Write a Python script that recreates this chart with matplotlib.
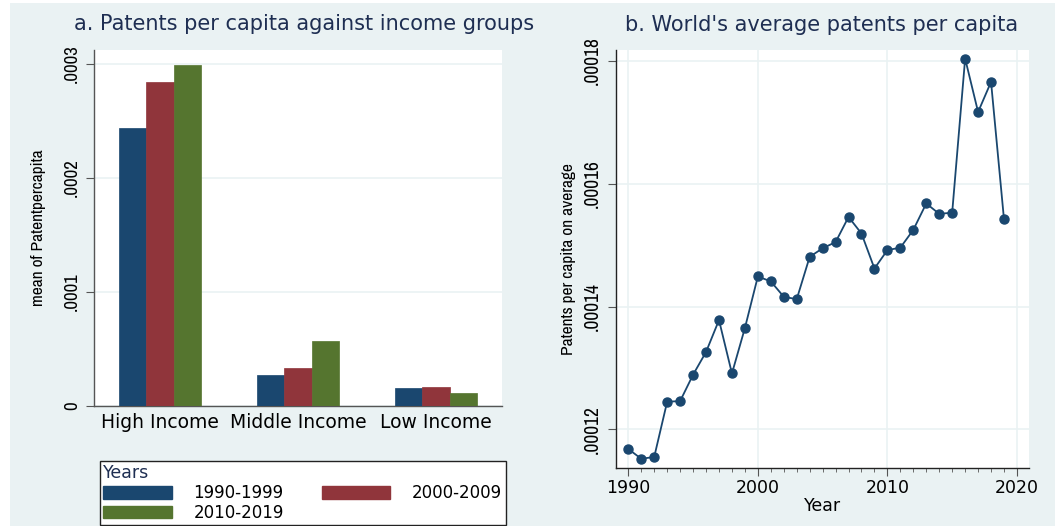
import matplotlib
matplotlib.use("Agg")
import matplotlib.pyplot as plt
from matplotlib.patches import Rectangle, Patch
import numpy as np

# income-group means, by decade
groups = ["High Income", "Middle Income", "Low Income"]
decades = ["1990-1999", "2000-2009", "2010-2019"]
mean_9099 = [0.0002436, 0.0000272, 0.0000161]
mean_0009 = [0.0002842, 0.0000331, 0.0000167]
mean_1019 = [0.0002991, 0.0000570, 0.0000114]

# world average per year
years = list(range(1990, 2020))
world_avg = [
    0.0001168, 0.0001152, 0.0001155, 0.0001245, 0.0001246,
    0.0001289, 0.0001326, 0.0001378, 0.0001291, 0.0001365,
    0.0001449, 0.0001441, 0.0001416, 0.0001412, 0.0001481,
    0.0001495, 0.0001505, 0.0001546, 0.0001519, 0.0001462,
    0.0001492, 0.0001496, 0.0001525, 0.0001568, 0.0001551,
    0.0001553, 0.0001804, 0.0001717, 0.0001766, 0.0001542,
]

navy = "#1a476f"
maroon = "#90353b"
green = "#55752f"
panel_bg = "#eaf2f3"
title_col = "#1e2e52"
narrow = ["Liberation Sans Narrow", "Archivo Narrow", "DejaVu Sans"]

W, H = 1055, 526
fig = plt.figure(figsize=(W / 100, H / 100), dpi=100)
fig.patch.set_facecolor("white")
fig.patches.append(Rectangle((10 / W, 0), 1 - 10 / W, 1 - 3 / H,
                             transform=fig.transFigure, facecolor=panel_bg,
                             edgecolor="none", zorder=-10))


def px_axes(x0, x1, top, bottom):
    return fig.add_axes([x0 / W, 1 - bottom / H, (x1 - x0) / W, (bottom - top) / H])


# ---- a. bar chart ----
ax = px_axes(94, 502, 50, 406)
x = np.arange(len(groups))
bw = 0.2
for i, (vals, col) in enumerate(zip([mean_9099, mean_0009, mean_1019], [navy, maroon, green])):
    ax.bar(x + (i - 1) * bw, vals, width=bw, color=col, edgecolor=col, linewidth=0.5, zorder=3)
ax.set_xlim(-0.478, 2.478)
ax.set_ylim(0, 0.000312)
ax.set_yticks([0, 0.0001, 0.0002, 0.0003])
ax.set_yticklabels(["0", ".0001", ".0002", ".0003"], rotation=90, va="center",
                   family=narrow, fontsize=13.5)
ax.set_xticks(x)
ax.set_xticklabels(groups, fontsize=13.5)
ax.tick_params(axis="x", length=0, pad=5)
ax.tick_params(axis="y", length=6, width=0.8, color="#555555", pad=4)
ax.grid(axis="y", color=panel_bg, linewidth=1.2, zorder=0)
for s in ["top", "right"]:
    ax.spines[s].set_visible(False)
for s in ["left", "bottom"]:
    ax.spines[s].set_color("#555555")
    ax.spines[s].set_linewidth(1.0)
ax.set_ylabel("mean of Patentpercapita", family=narrow, fontsize=12.5, labelpad=13)
fig.text(304 / W, 1 - 24 / H, "a. Patents per capita against income groups",
         ha="center", va="center", fontsize=15, color=title_col)

handles = [Patch(facecolor=navy, edgecolor=navy),
           Patch(facecolor=green, edgecolor=green),
           Patch(facecolor=maroon, edgecolor=maroon)]
labels = [decades[0], decades[2], decades[1]]
leg = fig.legend(handles, labels, ncol=2, title="Years", loc="upper left",
                 bbox_to_anchor=(100 / W, 1 - 461 / H), borderaxespad=0,
                 fontsize=12, title_fontsize=12.5, alignment="left",
                 handlelength=4.1, handleheight=0.8, handletextpad=1.3,
                 columnspacing=2.3, labelspacing=0.1, borderpad=0.2,
                 fancybox=False, framealpha=1, edgecolor="#222222")
leg.get_title().set_color(title_col)
leg.get_frame().set_linewidth(1.0)

# ---- b. world average line ----
bx = px_axes(616, 1029, 50, 468)
bx.plot(years, world_avg, color=navy, linewidth=1.3, marker="o", markersize=6.5,
        markerfacecolor=navy, markeredgecolor=navy, zorder=3)
bx.set_xlim(1989.05, 2020.93)
bx.set_ylim(0.0001137, 0.0001818)
bx.set_xticks([1990, 2000, 2010, 2020])
bx.set_xticks(range(1990, 2021), minor=True)
bx.set_xticklabels(["1990", "2000", "2010", "2020"], fontsize=12.5)
bx.set_yticks([0.00012, 0.00014, 0.00016, 0.00018])
bx.set_yticklabels([".00012", ".00014", ".00016", ".00018"], rotation=90, va="center",
                   family=narrow, fontsize=14)
bx.tick_params(axis="x", which="major", length=6, width=0.8, color="#555555", pad=2)
bx.tick_params(axis="x", which="minor", length=3, width=0.6, color="#555555")
bx.tick_params(axis="y", length=6, width=0.8, color="#555555", pad=4)
bx.grid(which="major", color=panel_bg, linewidth=1.2, zorder=0)
for s in ["top", "right"]:
    bx.spines[s].set_visible(False)
for s in ["left", "bottom"]:
    bx.spines[s].set_color("#222222")
    bx.spines[s].set_linewidth(1.0)
bx.set_xlabel("Year", fontsize=12.5, labelpad=0)
bx.set_ylabel("Patents per capita on average", family=narrow, fontsize=12.5, labelpad=5)
fig.text(822 / W, 1 - 25 / H, "b. World's average patents per capita",
         ha="center", va="center", fontsize=15, color=title_col)

fig.savefig("out.png", dpi=100)
